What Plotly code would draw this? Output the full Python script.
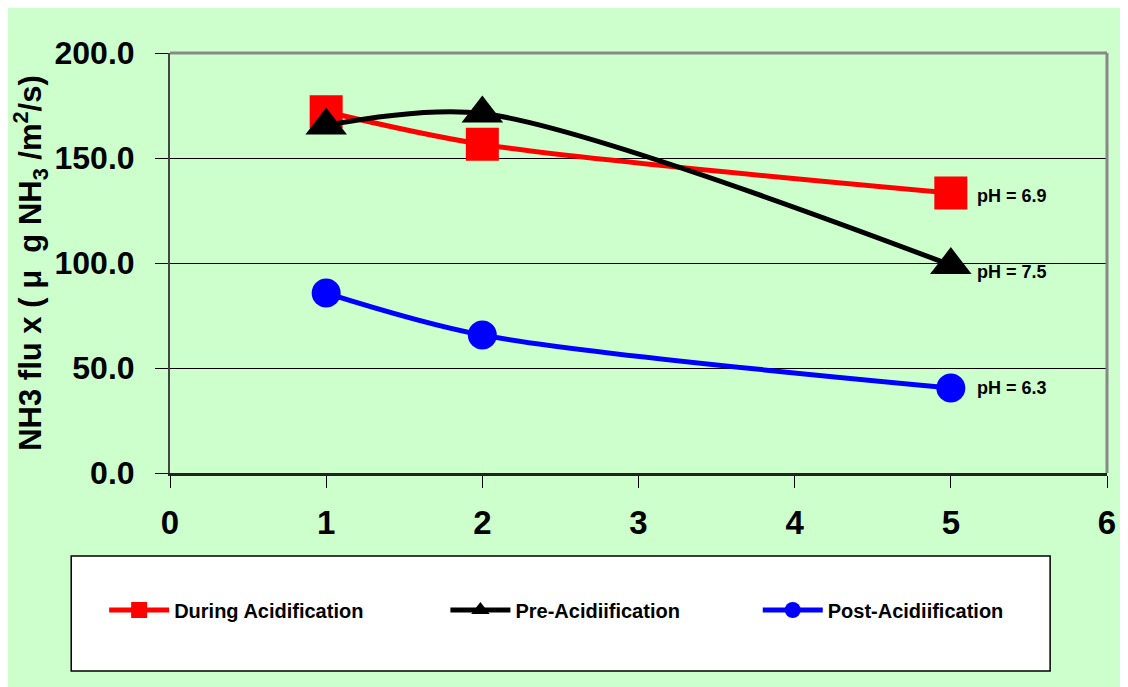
import plotly.graph_objects as go

x_vals = [1, 2, 5]
during = [172.0, 156.5, 133.3]
pre = [165.5, 171.2, 99.0]
post = [85.7, 65.7, 40.5]
series_names = ["During Acidification", "Pre-Acidiification", "Post-Acidiification"]
ph_labels = ["pH = 6.9", "pH = 7.5", "pH = 6.3"]
y_ticks = [0, 50, 100, 150, 200]
x_ticks = [0, 1, 2, 3, 4, 5, 6]

BG = "#CCFFCC"
SANS = "Liberation Sans, Arial, sans-serif"

# page is offset by 8px (body margin); figure drawn at 1120x679
W, H = 1120, 679
ml, mr, mt, mb = 162, 19, 45, 214
pw, ph = W - ml - mr, H - mt - mb


def px(xp):
    return (xp - ml) / pw


def py(yp):
    return (H - mb - yp) / ph


fig = go.Figure()
styles = [
    dict(color="#FF0000", symbol="square", size=33, legend="legend"),
    dict(color="#000000", symbol="triangle-up", size=36, legend="legend2"),
    dict(color="#0000FF", symbol="circle", size=29, legend="legend3"),
]
for name, ys, st in zip(series_names, [during, pre, post], styles):
    fig.add_trace(go.Scatter(
        x=x_vals, y=ys, name=name, mode="lines+markers",
        line=dict(color=st["color"], width=5, shape="spline", smoothing=0.85),
        marker=dict(color=st["color"], symbol=st["symbol"], size=st["size"]),
        legend=st["legend"], cliponaxis=False,
    ))

yshifts = [-3, -7, 0]
for lab, ys, ysh in zip(ph_labels, [during, pre, post], yshifts):
    fig.add_annotation(x=x_vals[-1], y=ys[-1], text=lab, showarrow=False,
                       xanchor="left", yanchor="middle", xshift=24, yshift=ysh,
                       font=dict(family=SANS, size=18, color="#000000", weight="bold"))

# plot border (top/right gray)
fig.add_shape(type="line", xref="paper", yref="paper", x0=0, x1=1, y0=1, y1=1,
              line=dict(color="#888888", width=3), layer="above")
fig.add_shape(type="line", xref="paper", yref="paper", x0=1, x1=1, y0=0, y1=1,
              line=dict(color="#888888", width=3), layer="above")

# legend box
fig.add_shape(type="rect", xref="paper", yref="paper",
              x0=px(63), x1=px(1044), y0=py(663), y1=py(548),
              line=dict(color="#000000", width=1.5), fillcolor="#FFFFFF", layer="below")

leg_common = dict(orientation="h", bgcolor="rgba(0,0,0,0)", borderwidth=0,
                  font=dict(family=SANS, size=20, color="#000000", weight="bold"),
                  yanchor="middle", xanchor="left", itemwidth=60, y=py(602))
fig.update_layout(
    legend=dict(x=px(96), **leg_common),
    legend2=dict(x=px(438), **leg_common),
    legend3=dict(x=px(751), **leg_common),
)

fig.update_layout(
    width=W, height=H,
    margin=dict(l=ml, r=mr, t=mt, b=mb),
    paper_bgcolor=BG, plot_bgcolor=BG,
    xaxis=dict(range=[0, 6], tickvals=x_ticks, ticktext=[str(v) for v in x_ticks],
               showgrid=False, zeroline=False, showline=True, linecolor="#222222", linewidth=3,
               ticks="outside", ticklen=12, tickcolor="#000000", tickwidth=1,
               ticklabelstandoff=6,
               tickfont=dict(family=SANS, size=33, color="#000000", weight="bold")),
    yaxis=dict(range=[0, 200], tickvals=y_ticks, ticktext=[f"{v:.1f}" for v in y_ticks],
               showgrid=True, gridcolor="#000000", gridwidth=1, zeroline=False,
               showline=True, linecolor="#444444", linewidth=2,
               ticks="outside", ticklen=13, tickcolor="#000000", tickwidth=1,
               ticklabelstandoff=14,
               tickfont=dict(family=SANS, size=32, color="#000000", weight="bold"),
               title=dict(text="<b>NH3 flu x ( μ  g NH<sub>3</sub> /m<sup>2</sup>/s)</b>", standoff=4,
                          font=dict(family=SANS, size=31, color="#000000"))),
    showlegend=True,
)

fig.write_html("out.html")
